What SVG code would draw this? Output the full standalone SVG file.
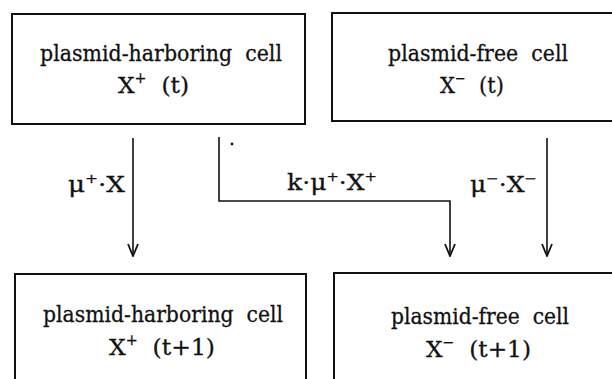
<svg xmlns="http://www.w3.org/2000/svg" width="612" height="379" viewBox="0 0 612 379">
<style>
.box{fill:#fff;stroke:#111;stroke-width:2}
.t{font-family:"DejaVu Serif","Liberation Serif",serif;font-size:23px;fill:#111;stroke:#111;stroke-width:0.3;white-space:pre}
.l{font-family:"DejaVu Serif","Liberation Serif",serif;font-size:22px;fill:#111;stroke:#111;stroke-width:0.3}
.c{fill:none;stroke:#111;stroke-width:1.6}
</style>
<defs>
<marker id="ah" markerWidth="14" markerHeight="12" refX="13" refY="6" orient="auto" markerUnits="userSpaceOnUse" viewBox="0 0 14 12">
<path d="M1,1 L13,6 L1,11" fill="none" stroke="#111" stroke-width="1.8"/>
</marker>
</defs>
<rect width="612" height="379" fill="#fff"/>
<g id="n1">
<rect class="box" x="12" y="14" width="293" height="110"/>
<text class="t" x="161" y="61" text-anchor="middle" textLength="242" lengthAdjust="spacingAndGlyphs" xml:space="preserve">plasmid-harboring  cell</text>
<text class="t" x="118" y="93" textLength="71" lengthAdjust="spacingAndGlyphs" xml:space="preserve">X<tspan dy="-10" font-size="14">+</tspan><tspan dy="10">  (t)</tspan></text>
</g>
<g id="n2">
<rect class="box" x="332" y="13" width="290" height="108"/>
<text class="t" x="478" y="61" text-anchor="middle" textLength="180" lengthAdjust="spacingAndGlyphs" xml:space="preserve">plasmid-free  cell</text>
<text class="t" x="440" y="93" textLength="64" lengthAdjust="spacingAndGlyphs" xml:space="preserve">X<tspan dy="-10" font-size="14">−</tspan><tspan dy="10">  (t)</tspan></text>
</g>
<g id="n3">
<rect class="box" x="15" y="274" width="291" height="120"/>
<text class="t" x="163" y="322" text-anchor="middle" textLength="240" lengthAdjust="spacingAndGlyphs" xml:space="preserve">plasmid-harboring  cell</text>
<text class="t" x="109" y="355" textLength="106" lengthAdjust="spacingAndGlyphs" xml:space="preserve">X<tspan dy="-10" font-size="14">+</tspan><tspan dy="10">  (t+1)</tspan></text>
</g>
<g id="n4">
<rect class="box" x="334" y="273" width="290" height="120"/>
<text class="t" x="480" y="324" text-anchor="middle" textLength="178" lengthAdjust="spacingAndGlyphs" xml:space="preserve">plasmid-free  cell</text>
<text class="t" x="426" y="357" textLength="105" lengthAdjust="spacingAndGlyphs" xml:space="preserve">X<tspan dy="-10" font-size="14">−</tspan><tspan dy="10">  (t+1)</tspan></text>
</g>
<g id="connectors">
<path class="c" d="M133,138 V256" marker-end="url(#ah)"/>
<path class="c" d="M219,137 V201 H450 V256" marker-end="url(#ah)"/>
<path class="c" d="M547,138 V256" marker-end="url(#ah)"/>
<circle cx="232" cy="144" r="1.4" fill="#111"/>
<text class="l" x="68" y="192" textLength="57" lengthAdjust="spacingAndGlyphs">μ<tspan dy="-9" font-size="13">+</tspan><tspan dy="9">·X</tspan></text>
<text class="l" x="287" y="190" textLength="90" lengthAdjust="spacingAndGlyphs">k·μ<tspan dy="-9" font-size="13">+</tspan><tspan dy="9">·X</tspan><tspan dy="-9" font-size="13">+</tspan></text>
<text class="l" x="470" y="192" textLength="67" lengthAdjust="spacingAndGlyphs">μ<tspan dy="-9" font-size="13">−</tspan><tspan dy="9">·X</tspan><tspan dy="-9" font-size="13">−</tspan></text>
</g>
</svg>
